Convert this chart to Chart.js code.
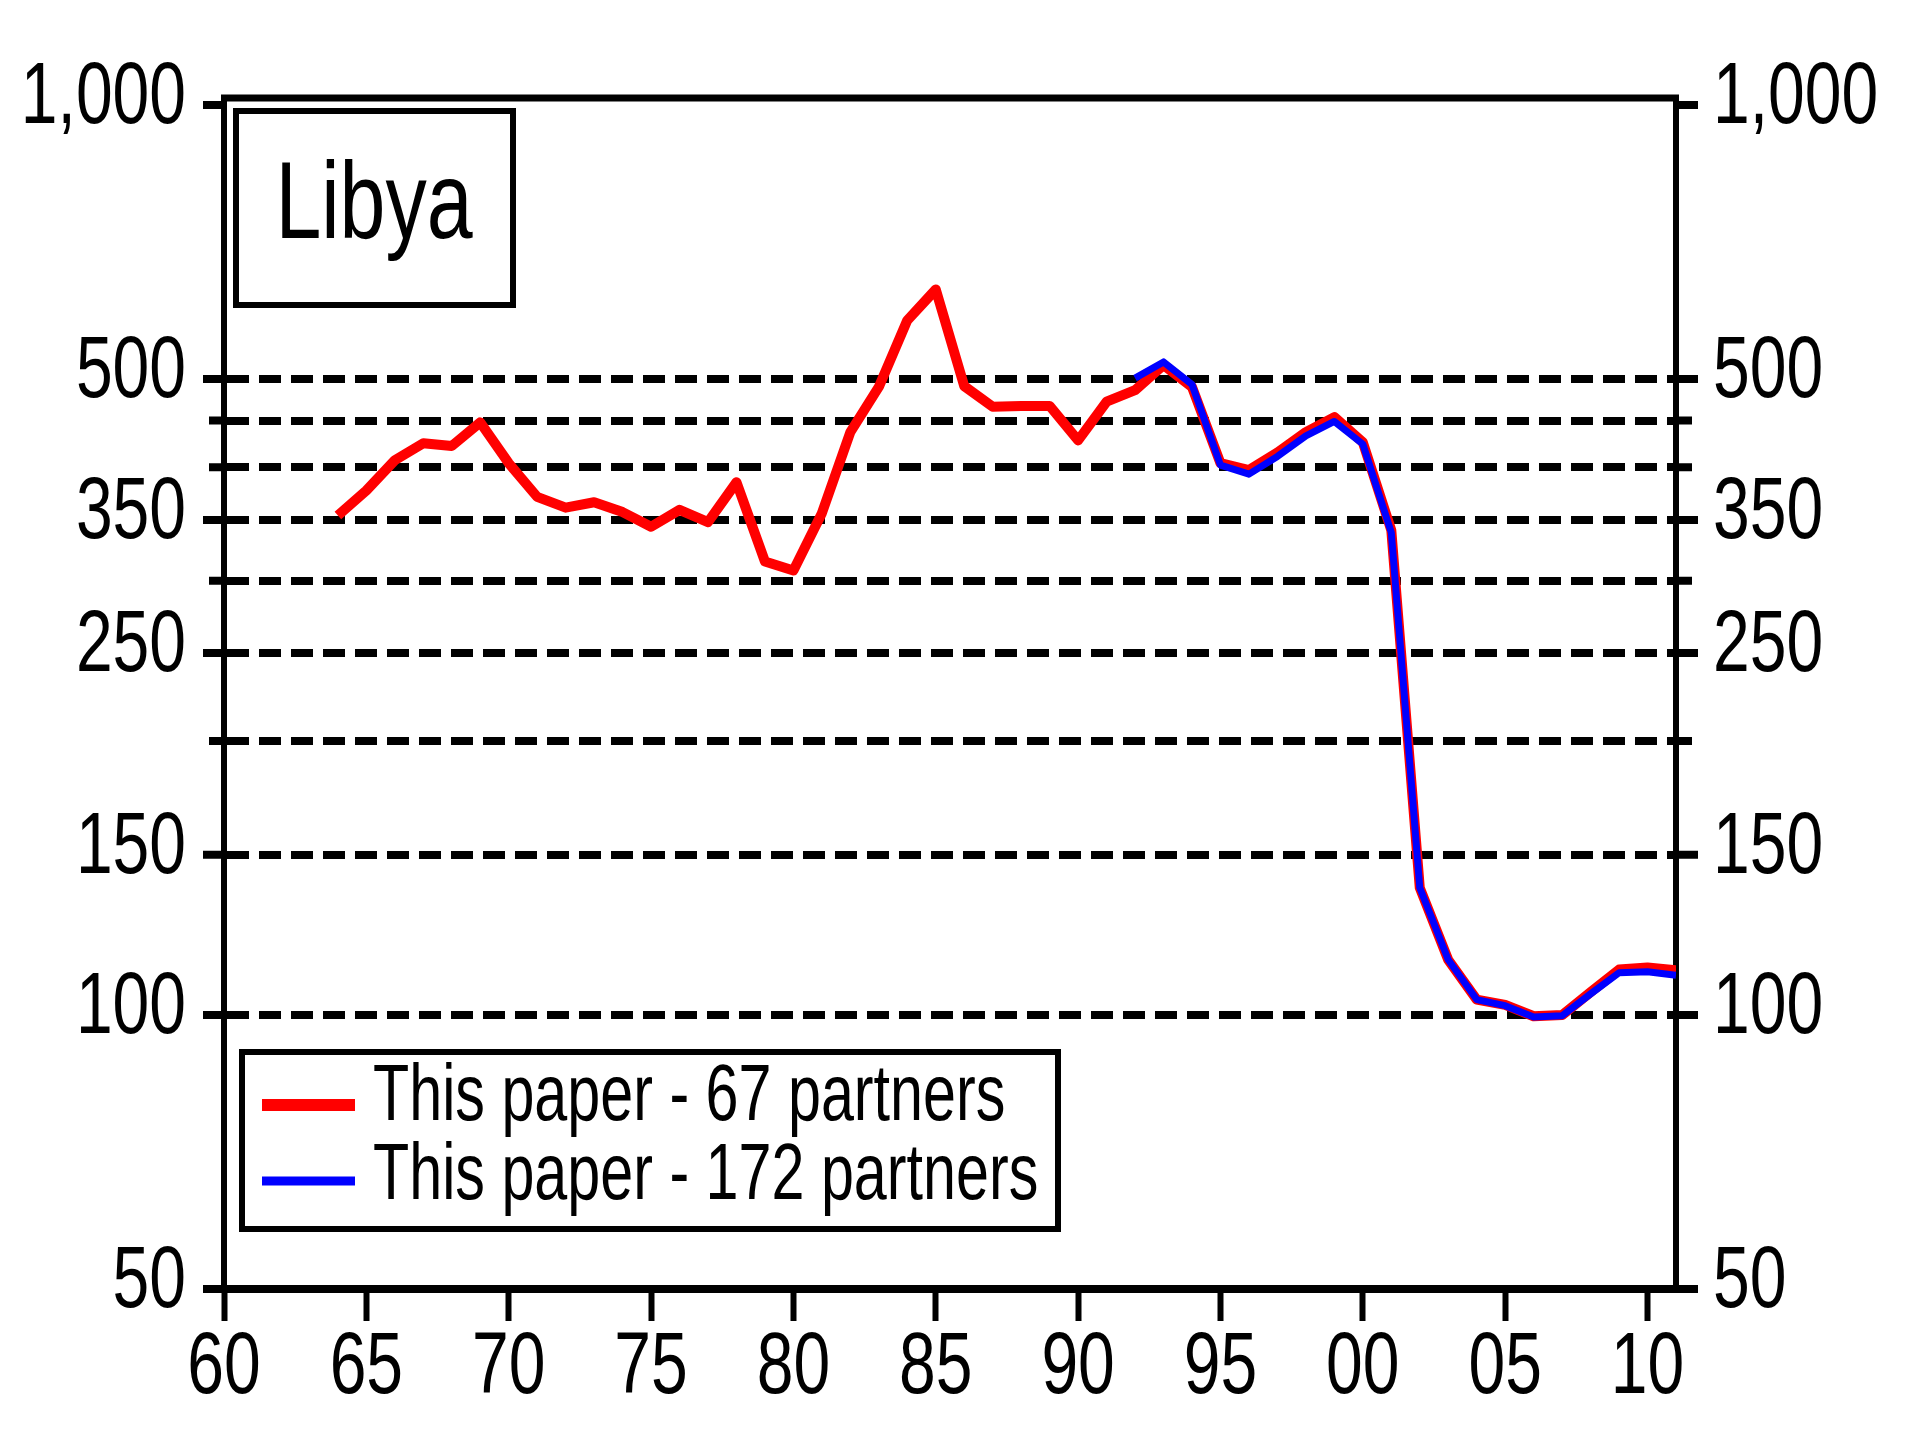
<!DOCTYPE html>
<html>
<head>
<meta charset="utf-8">
<title>Libya</title>
<script src="https://cdn.jsdelivr.net/npm/chart.js@4.4.1/dist/chart.umd.min.js"></script>
<style>
  html, body { margin: 0; padding: 0; background: #fff; }
  canvas { display: block; }
</style>
</head>
<body>
<canvas id="myChart" width="1917" height="1440"></canvas>
<script>
const countryName = "Libya";
const years = [
  1964, 1965, 1966, 1967, 1968, 1969, 1970, 1971, 1972, 1973, 1974, 1975,
  1976, 1977, 1978, 1979, 1980, 1981, 1982, 1983, 1984, 1985, 1986, 1987,
  1988, 1989, 1990, 1991, 1992, 1993, 1994, 1995, 1996, 1997, 1998, 1999,
  2000, 2001, 2002, 2003, 2004, 2005, 2006, 2007, 2008, 2009, 2010, 2011,
];
const partners67 = [
  354, 377, 407, 425, 422, 448, 404, 371, 361, 366, 357, 344,
  359, 348, 385, 315, 308, 356, 437, 490, 580, 627, 491, 466,
  467, 467, 428, 472, 486, 518, 490, 404, 397, 415, 437, 454,
  426, 341, 138, 115, 104, 102.6, 99.7, 100, 106, 112.2, 112.8, 112,
];
// the wider sample only starts in 1992
const years172 = years.filter((yr) => yr >= 1992);
const partners172 = [
  501, 522, 493, 402, 393, 411, 433, 449,
  424, 339, 138, 115, 104, 102.4, 99.5, 99.8, 105.5, 111.3, 111.6, 110.6,
];
const seriesLabels = ["This paper - 67 partners", "This paper - 172 partners"];
const seriesColors = ["#ff0000", "#0000ff"];

const xTicks = [1960, 1965, 1970, 1975, 1980, 1985, 1990, 1995, 2000, 2005, 2010];
const xTickLabels = ["60", "65", "70", "75", "80", "85", "90", "95", "00", "05", "10"];
const yTicks = [50, 100, 150, 200, 250, 300, 350, 400, 450, 500, 1000];
const yTickLabels = ["50", "100", "150", "", "250", "", "350", "", "", "500", "1,000"];

const FONT = "'Liberation Sans', Arial, sans-serif";
const NARROW = 0.75; // squeeze text horizontally, EViews-style narrow face

function narrowText(ctx, text, x, y, size, align) {
  ctx.save();
  ctx.font = size + "px " + FONT;
  ctx.textAlign = align;
  ctx.textBaseline = "alphabetic";
  ctx.translate(x, y);
  ctx.scale(NARROW, 1);
  ctx.fillText(text, 0, 0);
  ctx.restore();
}

const isEdge = (ctx) => ctx.tick && (ctx.tick.value === 50 || ctx.tick.value === 1000);

function yAxis(position, width) {
  return {
    type: "logarithmic",
    position: position,
    min: 50,
    max: 1000,
    afterBuildTicks: (s) => { s.ticks = yTicks.map((v) => ({ value: v })); },
    afterFit: (s) => { s.width = width; },
    border: { color: "#000", width: 6, dash: [22, 10] },
    grid: {
      drawOnChartArea: position === "left",
      drawTicks: false,
      lineWidth: 8,
      color: (ctx) => (isEdge(ctx) ? "rgba(0,0,0,0)" : "#000"),
    },
    ticks: { display: false },
  };
}

// frame top, outer tick marks, tick labels, country box and legend
const decorations = {
  id: "decorations",
  afterDraw(chart) {
    const { ctx, chartArea } = chart;
    const { left, right, top, bottom } = chartArea;
    const y = chart.scales.y;
    const x = chart.scales.x;
    ctx.save();
    ctx.strokeStyle = "#000";
    ctx.fillStyle = "#000";
    ctx.lineCap = "butt";

    ctx.lineWidth = 7;
    ctx.beginPath();
    ctx.moveTo(left - 3, top - 7);
    ctx.lineTo(right + 3, top - 7);
    ctx.stroke();
    ctx.lineWidth = 6;
    ctx.beginPath();
    ctx.moveTo(left, top - 10);
    ctx.lineTo(left, top);
    ctx.moveTo(right, top - 10);
    ctx.lineTo(right, top);
    ctx.stroke();

    ctx.lineWidth = 8;
    y.ticks.forEach((t, i) => {
      const py = y.getPixelForValue(t.value);
      const label = yTickLabels[i];
      ctx.beginPath();
      ctx.moveTo(left - (label ? 21 : 15), py);
      ctx.lineTo(left, py);
      ctx.moveTo(right, py);
      ctx.lineTo(right + (label ? 22 : 16), py);
      ctx.stroke();
      if (label) {
        narrowText(ctx, label, left - 38, py + 18, 88, "right");
        narrowText(ctx, label, right + 37, py + 18, 88, "left");
      }
    });

    x.ticks.forEach((t, i) => {
      narrowText(ctx, xTickLabels[i], x.getPixelForValue(t.value), bottom + 104, 88, "center");
    });

    // country name box
    ctx.lineWidth = 6;
    ctx.fillStyle = "#fff";
    ctx.fillRect(left + 12, top + 6, 277, 194);
    ctx.strokeRect(left + 12, top + 6, 277, 194);
    ctx.fillStyle = "#000";
    narrowText(ctx, countryName, left + 150, top + 133, 110, "center");

    // legend box
    const lx = left + 18, ly = 1052;
    ctx.fillStyle = "#fff";
    ctx.fillRect(lx, ly, 816, 177);
    ctx.strokeRect(lx, ly, 816, 177);
    chart.data.datasets.forEach((ds, i) => {
      const sy = ly + 53 + i * 76;
      ctx.strokeStyle = ds.borderColor;
      ctx.lineWidth = i === 0 ? 12 : 9;
      ctx.beginPath();
      ctx.moveTo(lx + 20, sy);
      ctx.lineTo(lx + 113, sy);
      ctx.stroke();
      ctx.fillStyle = "#000";
      narrowText(ctx, ds.label, lx + 131, sy + 15 + i * 3, 79, "left");
    });
    ctx.restore();
  },
};

new Chart("myChart", {
  type: "line",
  data: {
    datasets: [
      {
        label: seriesLabels[0],
        data: years.map((yr, i) => ({ x: yr, y: partners67[i] })),
        borderColor: seriesColors[0],
        borderWidth: 10,
        order: 1,
      },
      {
        label: seriesLabels[1],
        data: years172.map((yr, i) => ({ x: yr, y: partners172[i] })),
        borderColor: seriesColors[1],
        borderWidth: 7,
        order: 0,
      },
    ],
  },
  options: {
    responsive: false,
    animation: false,
    events: [],
    layout: { padding: { top: 105, left: 0, right: 0, bottom: 0 } },
    elements: {
      point: { radius: 0 },
      line: { tension: 0, borderJoinStyle: "round" },
    },
    plugins: {
      legend: { display: false },
      tooltip: { enabled: false },
    },
    scales: {
      x: {
        type: "linear",
        min: 1960,
        max: 2011,
        afterBuildTicks: (s) => { s.ticks = xTicks.map((v) => ({ value: v })); },
        afterFit: (s) => { s.height = 151; },
        border: { color: "#000", width: 8 },
        grid: { drawOnChartArea: false, tickLength: 32, tickWidth: 6, tickColor: "#000" },
        ticks: { display: false },
      },
      y: yAxis("left", 224),
      y2: yAxis("right", 241),
    },
  },
  plugins: [decorations],
});
</script>
</body>
</html>
